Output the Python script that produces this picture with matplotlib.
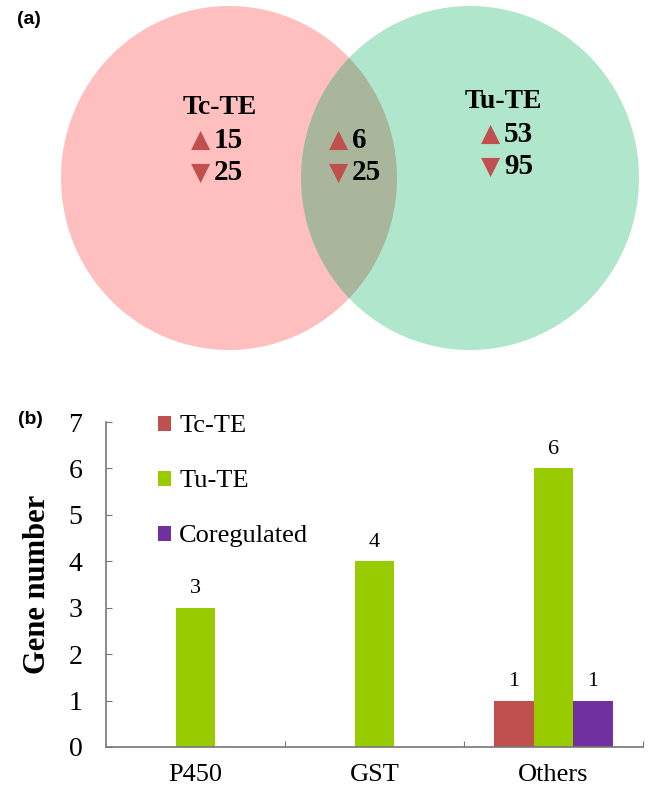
import numpy as np
import matplotlib
matplotlib.use("Agg")
import matplotlib.pyplot as plt
from matplotlib.patches import Ellipse

plt.rcParams['font.family'] = ['Liberation Serif', 'DejaVu Sans']

# Venn data: regions Tc-TE only, both, Tu-TE only
venn_sets = ['Tc-TE', 'Tu-TE']
venn_up = [15, 6, 53]
venn_down = [25, 25, 95]

# bar chart data
categories = ['P450', 'GST', 'Others']
tc_te = [0, 0, 1]
tu_te = [3, 4, 6]
coregulated = [0, 0, 1]
series_names = ['Tc-TE', 'Tu-TE', 'Coregulated']

W, H = 649, 794
fig = plt.figure(figsize=(W / 100, H / 100), dpi=100)

# ---- (a) Venn diagram, drawn in pixel coordinates ----
axv = fig.add_axes([0, 0.5, 1, 0.5])
axv.set_xlim(0, W)
axv.set_ylim(H / 2, 0)
axv.axis('off')

pink = Ellipse((229, 178), 336, 344, facecolor='#ffbfbf', edgecolor='none')
green = Ellipse((470, 178), 338, 344, facecolor='#b0e6cb', edgecolor='none')
axv.add_patch(pink)
axv.add_patch(green)
overlap = Ellipse((229, 178), 336, 344, facecolor='#a9b69b', edgecolor='none')
axv.add_patch(overlap)
overlap.set_clip_path(green)

tri_color = '#c0504d'
num_kw = dict(fontsize=21, fontweight='bold', va='center', ha='left')
tri_kw = dict(fontsize=18, color=tri_color, va='center', ha='right', family='DejaVu Sans')

axv.text(220, 107, venn_sets[0], fontsize=20, fontweight='bold', ha='center', va='center')
axv.text(503, 101, venn_sets[1], fontsize=20, fontweight='bold', ha='center', va='center')

# region anchors (x of number start, y of up row, y of down row)
anchors = [(213, 140, 173), (351, 140, 173), (503, 134, 167)]
for (x, yu, yd), up, down in zip(anchors, venn_up, venn_down):
    axv.text(x - 3, yu, '\u25B2', **tri_kw)
    axv.text(x + 1, yu, str(up), **num_kw)
    axv.text(x - 3, yd, '\u25BC', **tri_kw)
    axv.text(x + 1, yd, str(down), **num_kw)

fig.text(29 / W, 1 - 20 / H, '(a)', family='Liberation Sans', fontweight='bold',
         fontsize=14, ha='center', va='center')
fig.text(30 / W, 1 - 419 / H, '(b)', family='Liberation Sans', fontweight='bold',
         fontsize=14, ha='center', va='center')

# ---- (b) grouped bar chart ----
ax = fig.add_axes([106 / W, 1 - 747 / H, (643 - 106) / W, (747 - 422) / H])
x = np.arange(len(categories))
w = 0.22
colors = ['#c0504d', '#99cc00', '#7030a0']
for i, (vals, name, c) in enumerate(zip([tc_te, tu_te, coregulated], series_names, colors)):
    bars = ax.bar(x + (i - 1) * w, vals, w, color=c, label=name)
    ax.bar_label(bars, labels=['' if v == 0 else str(v) for v in vals],
                 padding=7, fontsize=16)

ax.set_xlim(-0.5, 2.5)
ax.set_ylim(0, 7)
ax.set_yticks(range(8))
ax.set_xticks([0.5, 1.5, 2.5])
ax.set_xticklabels([])
ax.set_xticks(x, minor=True)
ax.set_xticklabels(categories, minor=True, fontsize=19)
ax.tick_params(axis='x', which='minor', length=0, pad=12)
ax.tick_params(axis='x', which='major', direction='in', length=4, color='#777777')
ax.tick_params(axis='y', direction='in', length=4, color='#777777', labelsize=20, pad=17)
for s in ['top', 'right']:
    ax.spines[s].set_visible(False)
for s in ['left', 'bottom']:
    ax.spines[s].set_color('#777777')
    ax.spines[s].set_linewidth(1.2)

ax.set_ylabel('Gene number', fontsize=22, fontweight='bold', labelpad=12)

ax.legend(loc='upper left', bbox_to_anchor=(0.097, 1.02), frameon=False,
          fontsize=19, handlelength=0.5, handleheight=0.5, handletextpad=0.3,
          labelspacing=1.25, borderpad=0, borderaxespad=0)

fig.savefig('out.png', dpi=100)
